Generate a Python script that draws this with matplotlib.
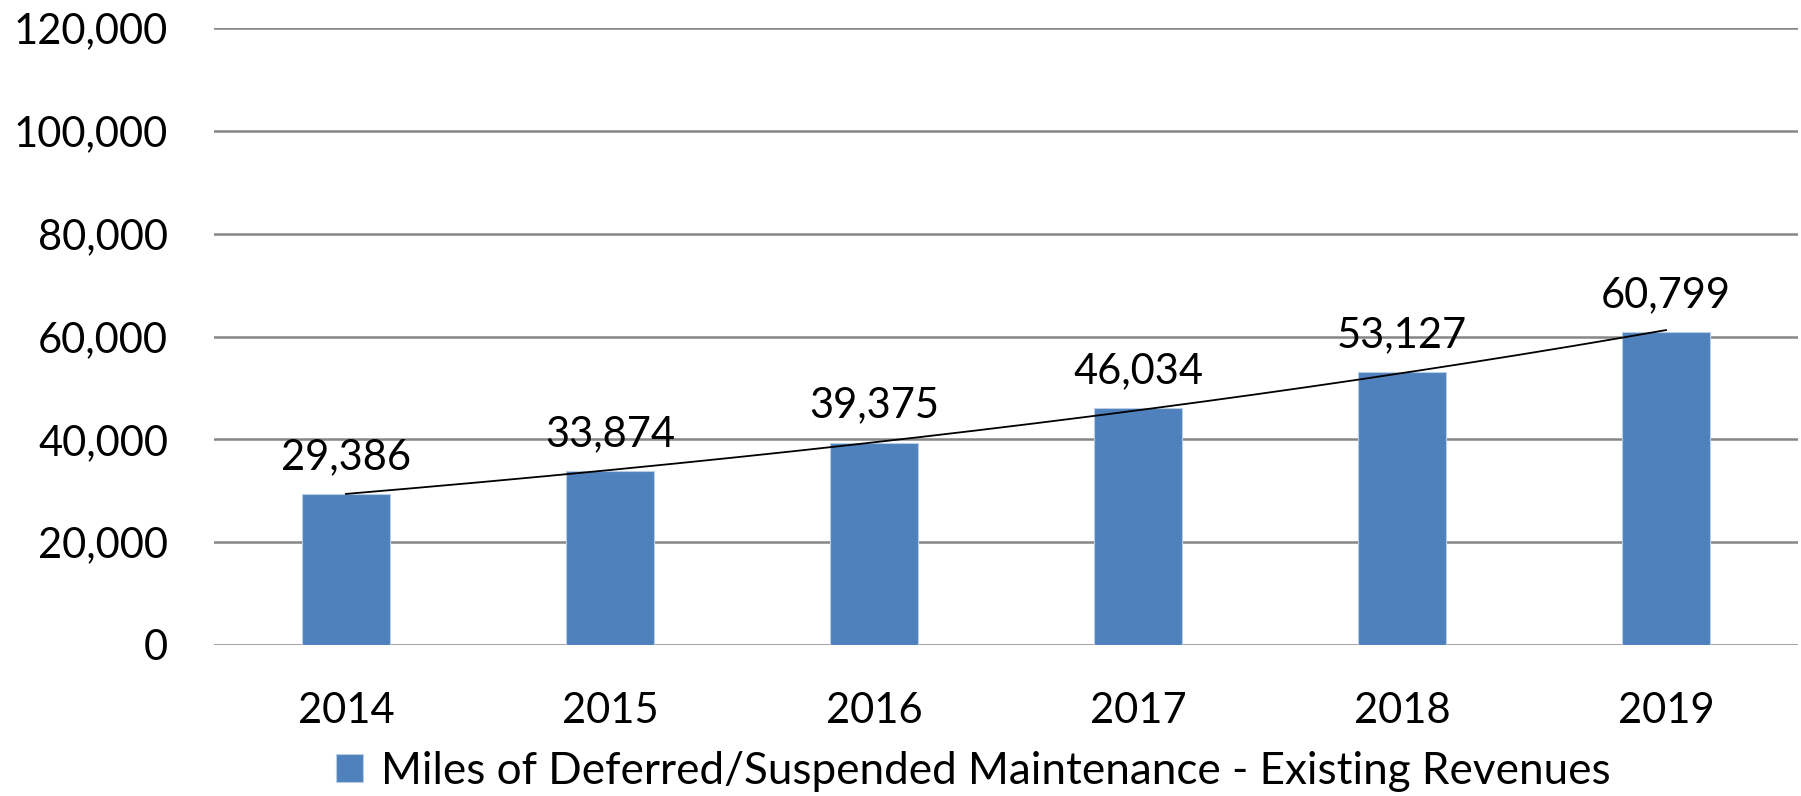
"""Deferred/suspended maintenance miles by year, bar chart with exponential trend."""

import matplotlib
matplotlib.use("Agg")
import matplotlib.pyplot as plt
import numpy as np
from matplotlib.ticker import FuncFormatter

years = ["2014", "2015", "2016", "2017", "2018", "2019"]
miles = [29386, 33874, 39375, 46034, 53127, 60799]
series_name = "Miles of Deferred/Suspended Maintenance - Existing Revenues"

plt.rcParams["font.family"] = ["Lato", "DejaVu Sans"]

BAR_COLOR = "#4F81BD"
GRID_COLOR = "#868686"
FS = 30

fig = plt.figure(figsize=(18.01, 7.96), dpi=100)
ax = fig.add_axes([214 / 1801, 151 / 796, 1584 / 1801, 617 / 796])

x = np.arange(len(years))
bars = ax.bar(x, miles, width=0.333, color=BAR_COLOR, edgecolor="#B9CDE5",
              linewidth=0.8, zorder=2, label=series_name)

# exponential trendline (Excel style), fitted on the data
b, a = np.polyfit(x, np.log(miles), 1)
xs = np.linspace(x[0], x[-1], 200)
ax.plot(xs, np.exp(a + b * xs), color="black", linewidth=1.3, zorder=3)

for xi, v in zip(x, miles):
    ax.annotate(f"{v:,}", (xi, v), xytext=(0, 18), textcoords="offset points",
                ha="center", va="baseline", fontsize=FS, color="black", zorder=4)

ax.set_xlim(-0.5, len(years) - 0.5)
ax.set_ylim(0, 120000)
ax.set_yticks(np.arange(0, 120001, 20000))
ax.yaxis.set_major_formatter(FuncFormatter(lambda v, _: f"{int(v):,}"))
ax.set_xticks(x)
ax.set_xticklabels(years)

ax.grid(axis="y", color=GRID_COLOR, linewidth=1.8, zorder=0)
ax.set_axisbelow(True)
for s in ax.spines.values():
    s.set_visible(False)
ax.tick_params(axis="y", length=0, pad=33, labelsize=FS)
ax.tick_params(axis="x", length=0, pad=34, labelsize=FS)

fig.legend(handles=[bars], labels=[series_name], loc="center",
           bbox_to_anchor=(973 / 1801, 25 / 796), frameon=False, fontsize=31.7,
           handlelength=0.62, handleheight=0.62, handletextpad=0.4,
           borderaxespad=0, borderpad=0)

fig.savefig("out.png", dpi=100)
